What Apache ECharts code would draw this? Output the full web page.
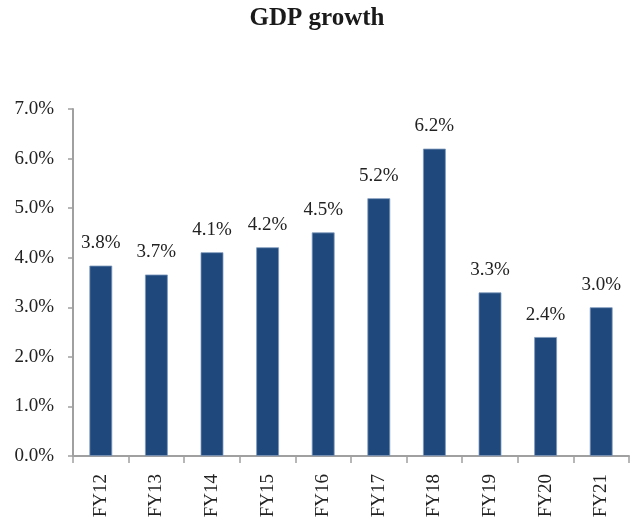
<!DOCTYPE html>
<html>
<head>
<meta charset="utf-8">
<script src="https://cdn.jsdelivr.net/npm/echarts@6/dist/echarts.min.js"></script>
<style>
html,body{margin:0;padding:0;background:#fff;}
#chart{width:634px;height:521px;}
</style>
</head>
<body>
<div id="chart"></div>
<script>
const categories = ['FY12','FY13','FY14','FY15','FY16','FY17','FY18','FY19','FY20','FY21'];
const gdpGrowth = [3.84, 3.66, 4.11, 4.21, 4.51, 5.20, 6.20, 3.30, 2.40, 3.00];
const titleText = 'GDP growth';

const FONT = '"Liberation Serif", "DejaVu Serif", serif';
const chart = echarts.init(document.getElementById('chart'), null, {renderer: 'canvas'});
chart.setOption({
  animation: false,
  backgroundColor: '#ffffff',
  title: {
    text: titleText,
    left: 'center',
    top: 1,
    textStyle: {fontFamily: FONT, fontSize: 25, fontWeight: 'bold', color: '#1a1a1a'}
  },
  grid: {left: 73, right: 5, top: 109, bottom: 65, containLabel: false},
  xAxis: {
    type: 'category',
    data: categories,
    axisLine: {show: true, lineStyle: {color: '#a0a0a0', width: 2}},
    axisTick: {show: true, alignWithLabel: false, length: 7, lineStyle: {color: '#a0a0a0', width: 1.5}},
    axisLabel: {rotate: 90, margin: 18, fontFamily: FONT, fontSize: 19, color: '#222222'}
  },
  yAxis: {
    type: 'value',
    min: 0,
    max: 7,
    interval: 1,
    splitLine: {show: false},
    axisLine: {show: true, lineStyle: {color: '#a0a0a0', width: 2}},
    axisTick: {show: true, length: 5, lineStyle: {color: '#a0a0a0', width: 1.5}},
    axisLabel: {
      margin: 19,
      fontFamily: FONT, fontSize: 19, color: '#222222',
      formatter: v => v.toFixed(1) + '%'
    }
  },
  series: [{
    type: 'bar',
    data: gdpGrowth,
    barWidth: '41%',
    itemStyle: {color: '#1F497D', borderColor: '#7d98bb', borderWidth: 0.8},
    label: {
      show: true,
      position: 'top',
      distance: 13,
      fontFamily: FONT, fontSize: 19, color: '#222222',
      formatter: p => p.value.toFixed(1) + '%'
    }
  }]
});
</script>
</body>
</html>
